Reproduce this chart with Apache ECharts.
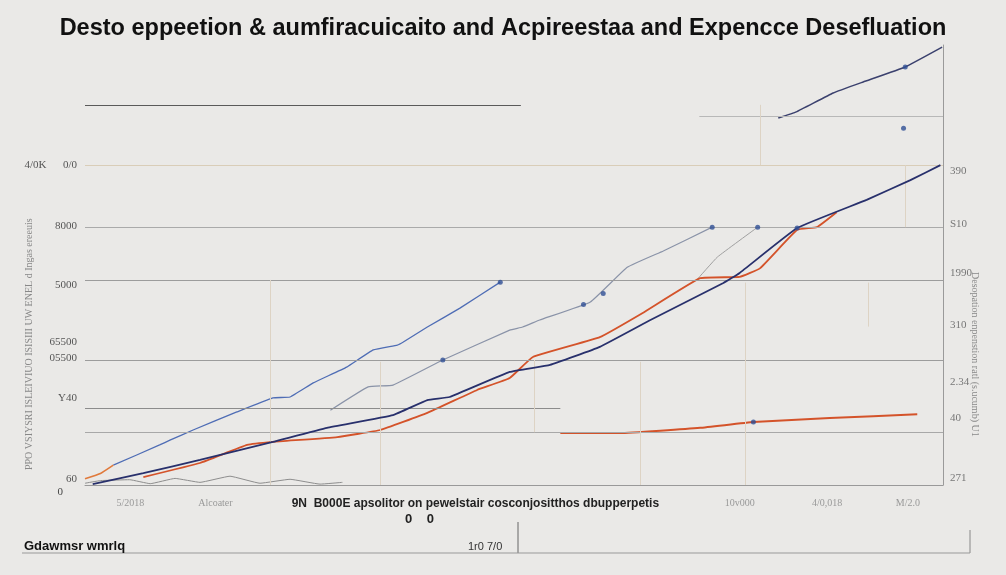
<!DOCTYPE html>
<html><head><meta charset="utf-8">
<script src="https://cdn.jsdelivr.net/npm/echarts@6/dist/echarts.min.js"></script>
<style>html,body{margin:0;padding:0;background:#eae9e7}#c{width:1006px;height:575px}</style>
</head><body><div id="c"></div>
<script>
// ---- data ----
const titleText = "Desto eppeetion \u0026 aumfiracuicaito and Acpireestaa and Expencce Desefluation";
const xTickVals = [5.3, 15.2, 45.5, 76.3, 86.5, 95.9];
const xTickLabels = ["5/2018", "Alcoater", "9N  B000E apsolitor on pewelstair cosconjositthos dbupperpetis", "10v000", "4/0,018", "M/2.0"];
const leftTickVals = [72.7, 58.9, 45.5, 32.5, 28.9, 19.8, 1.4, 0];
const leftTickLabels = ["4/0K      0/0", "8000", "5000", "65500", "05500", "Y40", "60", "0"];
const rightTickVals = [71.4, 59.3, 48.2, 36.4, 23.4, 15.2, 1.6];
const rightTickLabels = ["390", "S10", "1990", "310", "2.34", "40", "271"];

const lightBlue = [[3.3,4.5],[8.7,9.1],[9.9,10.2],[12.6,12.5],[17.7,16.6],[21.9,19.8],[23.9,20.0],[26.6,23.2],[30.5,26.8],[33.6,30.7],[36.4,31.8],[37.1,32.5],[39.9,35.9],[43.7,40.2],[48.4,46.1]];
const orangeStart = [[0,1.4],[1.8,2.6],[3.3,4.5]];
const darkBlue = [[0.9,0.2],[6.8,2.7],[13.4,5.7],[21.9,9.8],[28.2,13.0],[35.9,15.9],[39.9,19.3],[42.5,20.0],[49.5,25.7],[54.2,27.3],[60.0,31.4],[65.9,37.5],[74.4,45.9],[76.3,48.2],[83.0,58.4],[91.1,64.8],[96.2,69.3],[99.7,72.7]];
const orangeMain = [[6.8,1.8],[13.4,5.0],[18.9,9.1],[21.9,9.8],[29.4,10.9],[34.4,12.5],[39.9,16.4],[45.7,21.6],[49.5,24.3],[52.2,29.1],[60.0,33.6],[65.0,39.1],[71.7,47.0],[76.3,47.3],[78.7,49.3],[83.0,58.0],[85.3,58.6],[87.6,62.0]];
const orangeFlat = [[55.4,11.8],[62.4,11.8],[71.7,13.0],[77.9,14.3],[86.8,15.2],[97.0,16.1]];
const grayOne = [[28.6,17.0],[33.0,22.3],[35.9,22.7],[41.7,28.4],[49.5,35.2],[51.0,35.9],[53.0,37.5],[58.9,41.6],[63.2,49.5],[67.4,53.2],[73.1,58.6]];
const grayTwo = [[71.3,46.6],[73.7,51.8],[78.4,58.6]];
const topRight = [[80.8,83.4],[82.9,84.8],[87.2,89.1],[90.7,91.6],[95.6,95.0],[99.9,99.5]];
const bottomNoise = [[0,0.4],[1.8,1.0],[5.2,1.2],[7.6,0.3],[10.5,1.5],[13.4,0.6],[16.9,2.0],[20.4,0.4],[23.9,1.3],[27.4,0.2],[30.0,0.6]];
const dots = [[48.4,46.1],[41.7,28.4],[73.1,58.6],[78.4,58.6],[83.0,58.4],[95.6,95.0],[95.4,81.1],[77.9,14.3],[60.4,43.5],[58.1,41.0]];
// reference levels: [value, from, to]
const hLines = [[86.4,0,50.8],[83.9,71.6,100],[72.7,0,100],[58.6,0,100],[46.6,0,100],[28.4,0,100],[17.5,0,55.4],[12.0,0,100]];
const vLines = [[21.6,0,46.6],[34.4,0,28.0],[64.7,0,28.0],[76.9,0,46.0],[78.7,72.7,86.4],[95.6,58.6,72.7],[91.3,36.0,46.0],[52.4,12.0,28.4]];

// ---- chart ----
const chart = echarts.init(document.getElementById('c'));
const hColors = ['#5a5a5a','#b8b8b8','#d9cdb8','#aaaaaa','#9c9c9c','#9c9c9c','#8c8c8c','#a8a8a8'];
const markData = hLines.map((h,i)=>[{coord:[h[1],h[0]],lineStyle:{color:hColors[i],width:1,type:'solid'}},{coord:[h[2],h[0]]}])
  .concat(vLines.map(v=>[{coord:[v[0],v[1]],lineStyle:{color:'#ddd3c4',width:1,type:'solid'}},{coord:[v[0],v[2]]}]));

function line(name, data, color, width, z){
  return {name, type:'line', data, symbol:'none', smooth:0.1, lineStyle:{color, width}, z:z||3, silent:true};
}
const axisFont = {fontFamily:'Liberation Serif', color:'#555', fontSize:11};

chart.setOption({
  backgroundColor:'#eae9e7',
  animation:false,
  title:{text:titleText, left:'center', top:12,
    textStyle:{fontFamily:'Liberation Sans Narrow, Liberation Sans', fontWeight:'bold', fontSize:23.5, color:'#111'}},
  grid:{left:85, right:63, top:45, bottom:90},
  xAxis:{type:'value', min:0, max:100,
    axisLine:{show:true, lineStyle:{color:'#999'}}, axisTick:{show:false}, splitLine:{show:false},
    axisLabel:{customValues:xTickVals, margin:13, color:'#999', fontSize:10, fontFamily:'Liberation Serif',
      formatter:(v)=>{const i=xTickVals.indexOf(v); const t=i>=0?xTickLabels[i]:''; return i===2?'{b|'+t+'}':t;},
      rich:{b:{fontFamily:'Liberation Sans Narrow, Liberation Sans', fontWeight:'bold', fontSize:12, color:'#222'}}}},
  yAxis:[
    {type:'value', min:0, max:100, position:'left',
      axisLine:{show:false}, axisTick:{show:false}, splitLine:{show:false},
      axisLabel:Object.assign({customValues:leftTickVals, margin:8,
        formatter:(v)=>{const i=leftTickVals.indexOf(v); if(i<0) return ''; return i===7?'{z|'+leftTickLabels[i]+'}':leftTickLabels[i];},
        rich:{z:{padding:[14,14,0,0], fontFamily:'Liberation Serif', color:'#444', fontSize:11}}}, axisFont)},
    {type:'value', min:0, max:100, position:'right',
      axisLine:{show:true, lineStyle:{color:'#9a9a9a'}}, axisTick:{show:false}, splitLine:{show:false},
      axisLabel:Object.assign({customValues:rightTickVals, margin:7,
        formatter:(v)=>{const i=rightTickVals.indexOf(v); return i<0?'':rightTickLabels[i];}}, axisFont, {color:'#777'})}
  ],
  series:[
    {type:'line', data:[], markLine:{silent:true, symbol:'none', label:{show:false}, data:markData}, z:1},
    line('bottom', bottomNoise, '#8d8d8d', 1, 2),
    line('light', lightBlue, '#4f6db5', 1.3),
    line('orangeStart', orangeStart, '#e07a3c', 1.6),
    line('gray1', grayOne, '#8a93a8', 1.2),
    line('gray2', grayTwo, '#a0a0a0', 1),
    line('orange', orangeMain, '#d4532a', 1.8, 4),
    line('dark', darkBlue, '#28306c', 1.8, 5),
    line('flat', orangeFlat, '#d4532a', 2, 4),
    line('top', topRight, '#3b416e', 1.5),
    {type:'scatter', data:dots, symbolSize:5, itemStyle:{color:'#2f4f95'}, z:6, silent:true}
  ],
  graphic:[
    {type:'text', x:24, y:470, rotation:Math.PI/2,
      style:{text:'PPO VSIYSRI ISLEIVIUO ISISIII UW ENEL d Ingas ereeuis', fill:'#888', fontSize:10, fontFamily:'Liberation Serif'}},
    {type:'text', rotation:-Math.PI/2, x:980, y:272,
      style:{text:'Desopation enpenstion ratl (s.ucumb) U1', fill:'#888', fontSize:10, fontFamily:'Liberation Serif'}},
    {type:'text', x:405, y:513, style:{text:'0    0', fill:'#222', fontSize:13, fontWeight:'bold', fontFamily:'Liberation Sans'}},
    {type:'text', x:468, y:541, style:{text:'1r0 7/0', fill:'#333', fontSize:11, fontFamily:'Liberation Sans Narrow, Liberation Sans'}},
    {type:'line', shape:{x1:518, y1:522, x2:518, y2:553}, style:{stroke:'#666', lineWidth:1}},
    {type:'line', shape:{x1:970, y1:530, x2:970, y2:553}, style:{stroke:'#888', lineWidth:1}},
    {type:'line', shape:{x1:22, y1:553, x2:970, y2:553}, style:{stroke:'#999', lineWidth:1}},
    {type:'text', x:24, y:540, style:{text:'Gdawmsr wmrlq', fill:'#111', fontSize:13, fontWeight:'bold', fontFamily:'Liberation Sans'}}
  ]
});
</script>
</body></html>
